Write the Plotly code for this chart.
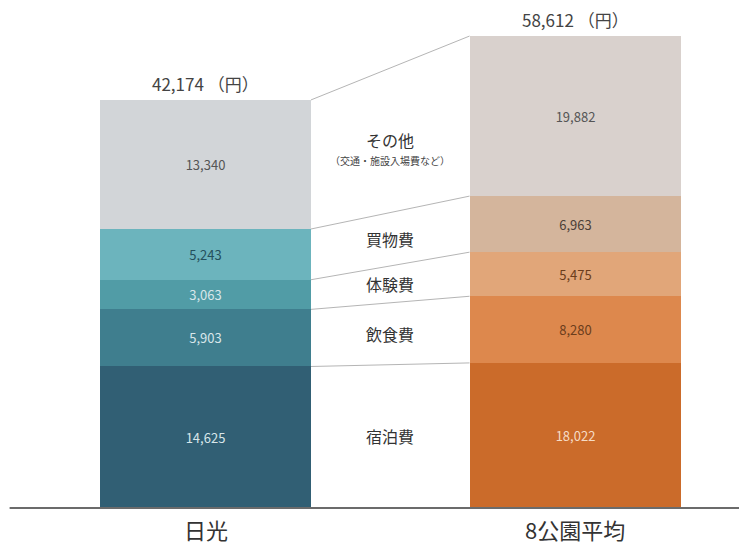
import plotly.graph_objects as go

# Spending per visitor (yen), by category, bottom to top
categories = ["宿泊費", "飲食費", "体験費", "買物費", "その他"]
nikko = [14625, 5903, 3063, 5243, 13340]
avg8 = [18022, 8280, 5475, 6963, 19882]
totals = [42174, 58612]
bar_names = ["日光", "8公園平均"]
total_unit = " （円）"
other_note = "（交通・施設入場費など）"

nikko_colors = ["#315f74", "#3f7e8e", "#519ca6", "#6cb4bd", "#d2d5d8"]
nikko_text = ["#d8e6ea", "#d8e6ea", "#d8e6ea", "#24505c", "#555555"]
avg_colors = ["#cb6b2a", "#dd884d", "#e1a679", "#d4b59c", "#d9d1cd"]
avg_text = ["#f6dcc6", "#6b3d1c", "#6b3d1c", "#4d4038", "#555555"]

# Each bar has its own vertical scale
RANGE_LEFT = 52500
RANGE_RIGHT = 63100
BAR_W = 0.571
FONT = "Noto Sans CJK JP"

fig = go.Figure()
for i, cat in enumerate(categories):
    fig.add_trace(go.Bar(
        x=[0], y=[nikko[i]], yaxis="y", width=BAR_W, name=cat,
        marker=dict(color=nikko_colors[i], line=dict(width=0)),
        texttemplate="%{y:,}", textposition="inside", insidetextanchor="middle",
        textangle=0, textfont=dict(size=13, color=nikko_text[i], family=FONT),
        showlegend=False, hoverinfo="skip"))
    fig.add_trace(go.Bar(
        x=[1], y=[avg8[i]], yaxis="y2", width=BAR_W, name=cat,
        marker=dict(color=avg_colors[i], line=dict(width=0)),
        texttemplate="%{y:,}", textposition="inside", insidetextanchor="middle",
        textangle=0, textfont=dict(size=13, color=avg_text[i], family=FONT),
        showlegend=False, hoverinfo="skip"))

# Cumulative boundaries in paper fractions
cum_l, cum_r = [0], [0]
for a, b in zip(nikko, avg8):
    cum_l.append(cum_l[-1] + a)
    cum_r.append(cum_r[-1] + b)
pl = [c / RANGE_LEFT for c in cum_l]
pr = [c / RANGE_RIGHT for c in cum_r]

shapes = []
x_from = BAR_W / 2
x_to = 1 - BAR_W / 2
for k in range(1, len(cum_l)):
    shapes.append(dict(type="line", xref="x", yref="paper",
                       x0=x_from, x1=x_to, y0=pl[k], y1=pr[k],
                       line=dict(color="#b5b5b5", width=1)))
# baseline
shapes.append(dict(type="line", xref="paper", yref="paper", x0=0.013, x1=1,
                   y0=0, y1=0, line=dict(color="#6b6b6b", width=2)))

annotations = []
for k, cat in enumerate(categories):
    mid = ((pl[k] + pl[k + 1]) / 2 + (pr[k] + pr[k + 1]) / 2) / 2
    annotations.append(dict(x=0.5, y=mid, xref="x", yref="paper", text=cat,
                            showarrow=False, yanchor="middle",
                            font=dict(size=16, color="#333333", family=FONT)))
    if k == len(categories) - 1:
        annotations.append(dict(x=0.5, y=mid, xref="x", yref="paper", text=other_note,
                                showarrow=False, yanchor="middle", yshift=-20,
                                font=dict(size=10, color="#444444", family=FONT)))

annotations.append(dict(x=0, y=cum_l[-1], xref="x", yref="y", yshift=16,
                        yanchor="middle", text=f"{totals[0]:,}{total_unit}",
                        showarrow=False,
                        font=dict(size=17, color="#444444", family=FONT)))
annotations.append(dict(x=1, y=cum_r[-1], xref="x", yref="y2", yshift=17,
                        yanchor="middle", text=f"{totals[1]:,}{total_unit}",
                        showarrow=False,
                        font=dict(size=17, color="#444444", family=FONT)))
for i, nm in enumerate(bar_names):
    annotations.append(dict(x=i, y=0, xref="x", yref="paper", yshift=-21,
                            yanchor="middle", text=nm, showarrow=False,
                            font=dict(size=22, color="#333333", family=FONT)))

fig.update_layout(
    width=739, height=545,
    margin=dict(l=0, r=0, t=0, b=37),
    paper_bgcolor="white", plot_bgcolor="white",
    barmode="stack", bargap=0,
    xaxis=dict(range=[-0.5562, 1.4438], visible=False, fixedrange=True),
    yaxis=dict(range=[0, RANGE_LEFT], visible=False),
    yaxis2=dict(range=[0, RANGE_RIGHT], visible=False, overlaying="y"),
    shapes=shapes, annotations=annotations,
    font=dict(family=FONT),
)

fig.write_html("out.html")
